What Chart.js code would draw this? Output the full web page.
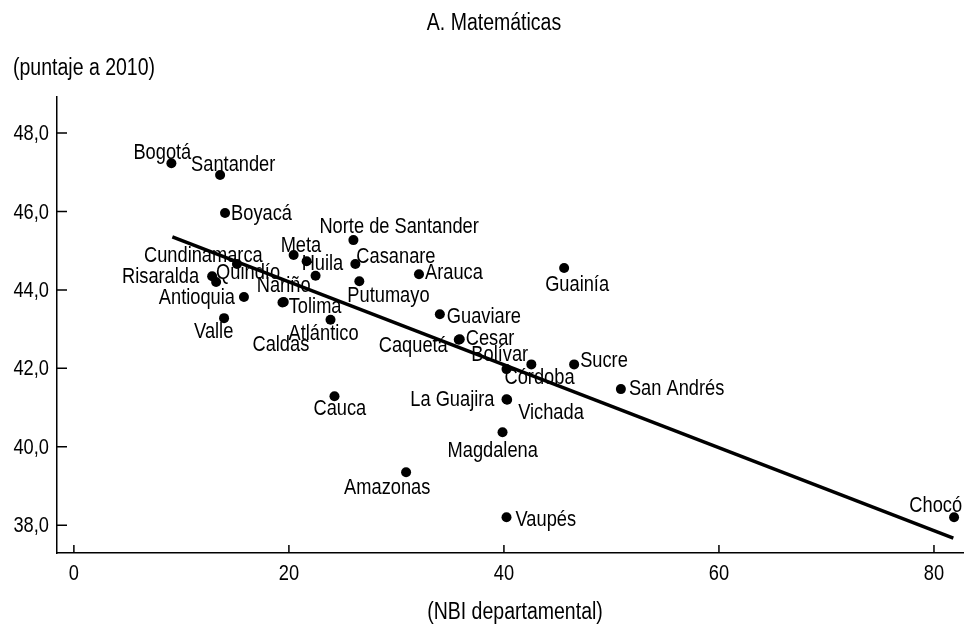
<!DOCTYPE html>
<html lang="es">
<head>
<meta charset="UTF-8">
<title>A. Matemáticas</title>
<script src="https://cdn.jsdelivr.net/npm/chart.js"></script>
<style>
  html, body { margin: 0; padding: 0; background: #fff; }
  .chart-container { position: relative; width: 968px; height: 625px; }
</style>
</head>
<body>
<div class="chart-container"><canvas id="nbiChart"></canvas></div>
<script>
const departamentos = ['Bogotá', 'Santander', 'Boyacá', 'Norte de Santander', 'Meta', 'Huila', 'Casanare',
  'Cundinamarca', 'Risaralda', 'Quindío', 'Nariño', 'Antioquia', 'Valle', 'Tolima', 'Atlántico', 'Caldas',
  'Putumayo', 'Arauca', 'Guainía', 'Guaviare', 'Cesar', 'Caquetá', 'Bolívar', 'Córdoba', 'Sucre',
  'San Andrés', 'La Guajira', 'Vichada', 'Cauca', 'Magdalena', 'Amazonas', 'Vaupés', 'Chocó'];
const nbi = [9.07, 13.6, 14.06, 26.0, 20.44, 21.65, 26.18,
  15.17, 12.86, 13.23, 22.48, 15.82, 13.97, 19.52, 23.87, 19.4,
  26.55, 32.1, 45.6, 34.04, 35.89, 35.8, 42.55, 40.24, 46.53,
  50.88, 40.24, 40.3, 24.24, 39.87, 30.9, 40.24, 81.87];
const puntaje = [47.23, 46.93, 45.96, 45.27, 44.89, 44.73, 44.66,
  44.66, 44.35, 44.2, 44.36, 43.82, 43.28, 43.69, 43.24, 43.68,
  44.22, 44.4, 44.56, 43.38, 42.74, 42.73, 42.1, 41.98, 42.1,
  41.47, 41.21, 41.2, 41.29, 40.37, 39.35, 38.2, 38.2];
// regression line
const tendenciaX = [9.16, 81.8];
const tendenciaY = [45.35, 37.67];
const xTicks = [0, 20, 40, 60, 80];
const yTicks = [38, 40, 42, 44, 46, 48];

// where each name sits next to its dot: [align, dx, dy]
const labelPlace = [['l', -38, -11], ['l', -29, -11], ['l', 6, 0], ['l', -34, -14], ['l', -13, -10], ['l', -5, 2], ['l', 1, -8],
  ['l', -93, -9], ['r', -13, 0], ['l', 0, -10], ['r', -5, 9], ['r', -9, 0], ['l', -30, 13], ['l', 5, 4], ['l', -42, 13], ['l', -30, 41],
  ['l', -12, 14], ['l', 6, -2], ['l', -19, 16], ['l', 7, 2], ['l', 6, -1], ['r', -11, 5], ['l', -60, -10], ['l', -2, 8], ['l', 6, -4],
  ['l', 8, -1], ['r', -12, 0], ['l', 11, 12], ['l', -21, 12], ['l', -55, 18], ['l', -62, 15], ['l', 9, 2], ['r', 8, -12]];

// no narrow font installed, so squeeze Liberation Sans sideways
const FAMILY = '"Liberation Sans", Arial, sans-serif';
const SQUEEZE = 0.83;
const fmt = v => v.toFixed(1).replace('.', ',');

function narrowText(ctx, s, x, y, align) {
  ctx.save();
  ctx.translate(x, y);
  ctx.scale(SQUEEZE, 1);
  ctx.textAlign = align;
  ctx.fillText(s, 0, 0);
  ctx.restore();
}

const extras = {
  id: 'extras',
  afterDraw(chart) {
    const ctx = chart.ctx;
    const area = chart.chartArea;
    const xs = chart.scales.x, ys = chart.scales.y;
    ctx.save();
    ctx.fillStyle = '#000';
    ctx.strokeStyle = '#000';
    ctx.textBaseline = 'middle';

    // titles
    ctx.font = '23.5px ' + FAMILY;
    narrowText(ctx, 'A. Matemáticas', 494, 24, 'center');
    narrowText(ctx, '(NBI departamental)', 515, 613, 'center');
    narrowText(ctx, '(puntaje a 2010)', 13, 69, 'left');

    // inward tick marks + tick labels
    ctx.font = '22px ' + FAMILY;
    ctx.lineWidth = 1.5;
    ctx.beginPath();
    yTicks.forEach(v => {
      const y = ys.getPixelForValue(v);
      ctx.moveTo(area.left, y);
      ctx.lineTo(area.left + 10, y);
      narrowText(ctx, fmt(v), area.left - 8, y + 1, 'right');
    });
    xTicks.forEach(v => {
      const x = xs.getPixelForValue(v);
      ctx.moveTo(x, area.bottom);
      ctx.lineTo(x, area.bottom - 8);
      narrowText(ctx, String(v), x, 574, 'center');
    });
    ctx.stroke();

    // point names
    const pts = chart.getDatasetMeta(1).data;
    pts.forEach((p, i) => {
      const [al, dx, dy] = labelPlace[i];
      narrowText(ctx, departamentos[i], p.x + dx, p.y + dy + 1, al === 'r' ? 'right' : 'left');
    });
    ctx.restore();
  }
};

new Chart(document.getElementById('nbiChart').getContext('2d'), {
  data: {
    datasets: [{
      type: 'line',
      data: tendenciaX.map((x, i) => ({ x: x, y: tendenciaY[i] })),
      borderColor: '#000',
      borderWidth: 3.5,
      pointRadius: 0,
      fill: false
    }, {
      type: 'scatter',
      data: nbi.map((x, i) => ({ x: x, y: puntaje[i] })),
      backgroundColor: '#000',
      borderWidth: 0,
      pointRadius: 5
    }]
  },
  options: {
    responsive: true,
    maintainAspectRatio: false,
    animation: false,
    layout: { padding: { top: 97, left: 0, right: 0, bottom: 0 } },
    scales: {
      x: {
        type: 'linear',
        min: -1.57,
        max: 82.7,
        afterBuildTicks: s => { s.ticks = xTicks.map(v => ({ value: v })); },
        afterFit: s => { s.height = 72; },
        grid: { display: false },
        border: { display: true, color: '#000', width: 1.5 },
        ticks: { display: false }
      },
      y: {
        type: 'linear',
        min: 37.29,
        max: 48.92,
        afterBuildTicks: s => { s.ticks = yTicks.map(v => ({ value: v })); },
        afterFit: s => { s.width = 57; },
        grid: { display: false },
        border: { display: true, color: '#000', width: 1.5 },
        ticks: { display: false }
      }
    },
    plugins: {
      legend: { display: false },
      tooltip: { enabled: false }
    }
  },
  plugins: [extras]
});
</script>
</body>
</html>
